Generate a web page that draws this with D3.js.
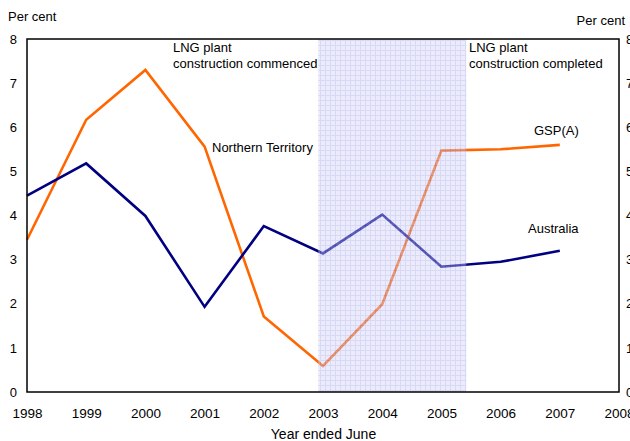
<!DOCTYPE html>
<html>
<head>
<meta charset="utf-8">
<script src="https://cdn.jsdelivr.net/npm/d3@7"></script>
<style>
  html, body { margin: 0; padding: 0; background: #fff; }
  svg text { font-family: "Liberation Sans", Arial, sans-serif; fill: #000; }
</style>
</head>
<body>
<svg id="chart" width="630" height="441"></svg>
<script>
// Annual growth, per cent, years ended June
const years = [1998, 1999, 2000, 2001, 2002, 2003, 2004, 2005, 2006, 2007];
const northernTerritory = [3.45, 6.17, 7.30, 5.56, 1.71, 0.59, 1.99, 5.47, 5.50, 5.60];
const australia = [4.45, 5.18, 3.99, 1.93, 3.76, 3.14, 4.02, 2.84, 2.95, 3.20];
const xTicks = [1998, 1999, 2000, 2001, 2002, 2003, 2004, 2005, 2006, 2007, 2008];
const yTicks = [0, 1, 2, 3, 4, 5, 6, 7, 8];
// LNG plant construction period
const constructionPeriod = [2002.92, 2005.42];

const svg = d3.select("#chart");
const plotLeft = 27, plotRight = 619, plotTop = 39, plotBottom = 392;

const x = d3.scaleLinear().domain([1998, 2008]).range([plotLeft, plotRight]);
const y = d3.scaleLinear().domain([0, 8]).range([plotBottom, plotTop]);

// grid-hatched fill for the construction period
const defs = svg.append("defs");
const pat = defs.append("pattern")
  .attr("id", "hatch").attr("patternUnits", "userSpaceOnUse")
  .attr("width", 5).attr("height", 5);
pat.append("rect").attr("width", 5).attr("height", 5).attr("fill", "#d2d2f9");
pat.append("path").attr("d", "M0,0.5H5M0.5,0V5")
  .attr("stroke", "#a8a8ee").attr("stroke-width", 1).attr("fill", "none");

const line = d3.line().x((d, i) => x(years[i])).y(d => y(d));

svg.append("path").datum(northernTerritory)
  .attr("d", line).attr("fill", "none")
  .attr("stroke", "#ff6600").attr("stroke-width", 2.6).attr("stroke-linejoin", "miter");
svg.append("path").datum(australia)
  .attr("d", line).attr("fill", "none")
  .attr("stroke", "#000080").attr("stroke-width", 2.6).attr("stroke-linejoin", "miter");

// translucent shading over the lines
svg.append("rect")
  .attr("x", x(constructionPeriod[0]))
  .attr("y", plotTop)
  .attr("width", x(constructionPeriod[1]) - x(constructionPeriod[0]))
  .attr("height", plotBottom - plotTop)
  .attr("fill", "url(#hatch)")
  .attr("opacity", 0.45);

// plot frame
svg.append("rect")
  .attr("x", plotLeft).attr("y", plotTop)
  .attr("width", plotRight - plotLeft).attr("height", plotBottom - plotTop)
  .attr("fill", "none").attr("stroke", "#000").attr("stroke-width", 1.5);

// axes (labels only)
const yAxisL = d3.axisLeft(y).tickValues(yTicks).tickSize(0).tickPadding(10).tickFormat(d3.format("d"));
const gL = svg.append("g").attr("transform", `translate(${plotLeft},0)`).call(yAxisL);
const yAxisR = d3.axisRight(y).tickValues(yTicks).tickSize(0).tickPadding(7).tickFormat(d3.format("d"));
const gR = svg.append("g").attr("transform", `translate(${plotRight},0)`).call(yAxisR);
const xAxis = d3.axisBottom(x).tickValues(xTicks).tickSize(0).tickPadding(16).tickFormat(d3.format("d"));
const gX = svg.append("g").attr("transform", `translate(0,${plotBottom})`).call(xAxis);
[gL, gR, gX].forEach(g => {
  g.select(".domain").remove();
  g.selectAll("text").attr("font-size", 13).attr("font-family", "Liberation Sans, Arial, sans-serif");
});
gX.selectAll("text").attr("font-size", 13.5);

// titles and annotations
const txt = (s, tx, ty, anchor) => svg.append("text")
  .attr("x", tx).attr("y", ty).attr("font-size", 13)
  .attr("text-anchor", anchor || "start").text(s);

txt("Per cent", 8, 21);
txt("Per cent", 625, 25, "end");
txt("Year ended June", 323.5, 439, "middle").attr("font-size", 14);
txt("LNG plant", 173, 52);
txt("construction commenced", 173, 68);
txt("LNG plant", 469, 52);
txt("construction completed", 469, 68);
txt("Northern Territory", 212, 152);
txt("GSP(A)", 534, 135);
txt("Australia", 528, 233);
</script>
</body>
</html>
